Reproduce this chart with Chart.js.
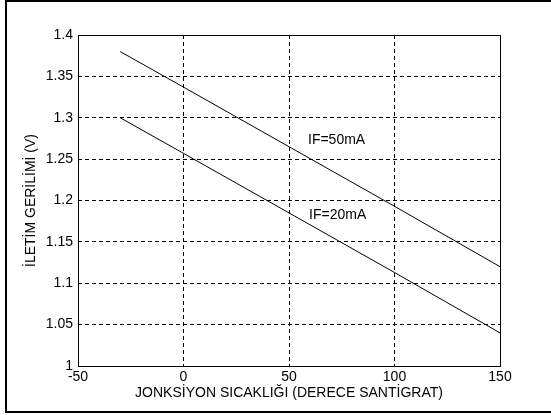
<!DOCTYPE html>
<html>
<head>
<meta charset="utf-8">
<script src="https://cdn.jsdelivr.net/npm/chart.js@4"></script>
<style>
html,body{margin:0;padding:0;background:#fff;}
#wrap{width:551px;height:415px;}
</style>
</head>
<body>
<div id="wrap"><canvas id="chart" width="551" height="415"></canvas></div>
<script>
// Data
const temps=[-30,0,50,100,150];
const vf50=[1.38,1.337,1.265,1.193,1.12];
const vf20=[1.30,1.257,1.185,1.113,1.04];
const seriesNames=['IF=50mA','IF=20mA'];
const labelPos=[[59,1.273],[59.5,1.1825]];
const xTicks=[-50,0,50,100,150];
const yTicks=[1,1.05,1.1,1.15,1.2,1.25,1.3,1.35,1.4];

const FONT='Liberation Sans';
const toPts=(xs,ys)=>xs.map((x,i)=>({x:x,y:ys[i]}));

// frame around the figure + plot box + in-plot labels
const framePlugin={
  id:'frame',
  afterDraw(chart){
    const ctx=chart.ctx;
    const a=chart.chartArea;
    ctx.save();
    ctx.strokeStyle='#000';
    ctx.lineWidth=1;
    ctx.strokeRect(Math.round(a.left)+0.5,Math.round(a.top)+0.5,Math.round(a.right-a.left),Math.round(a.bottom-a.top));
    ctx.lineWidth=2;
    ctx.strokeRect(6,1,600,411);
    ctx.fillStyle='#000';
    ctx.font='14px "'+FONT+'"';
    ctx.textAlign='left';
    ctx.textBaseline='middle';
    const xs=chart.scales.x, ys=chart.scales.y;
    seriesNames.forEach((n,i)=>{
      ctx.fillText(n,xs.getPixelForValue(labelPos[i][0]),ys.getPixelForValue(labelPos[i][1]));
    });
    ctx.restore();
  }
};

new Chart(document.getElementById('chart'),{
  type:'line',
  data:{datasets:[
    {label:seriesNames[0],data:toPts(temps,vf50),borderColor:'#000',borderWidth:1,pointRadius:0,tension:0},
    {label:seriesNames[1],data:toPts(temps,vf20),borderColor:'#000',borderWidth:1,pointRadius:0,tension:0}
  ]},
  options:{
    responsive:false,
    animation:false,
    layout:{padding:{left:0,right:51,top:35,bottom:0}},
    plugins:{legend:{display:false},tooltip:{enabled:false}},
    scales:{
      x:{
        type:'linear',min:-50,max:150,
        afterBuildTicks:s=>{s.ticks=xTicks.map(v=>({value:v}));},
        afterFit:s=>{s.height=49;},
        grid:{color:'#000',lineWidth:1,drawTicks:false},
        border:{display:false,dash:[4,3]},
        ticks:{color:'#000',padding:3,maxRotation:0,font:{family:FONT,size:14}},
        title:{display:true,text:'JONKSİYON SICAKLIĞI (DERECE SANTİGRAT)',color:'#000',font:{family:FONT,size:14},padding:{top:0,bottom:13.5}}
      },
      y:{
        type:'linear',min:1,max:1.4,
        afterBuildTicks:s=>{s.ticks=yTicks.map(v=>({value:v}));},
        afterFit:s=>{s.width=78;},
        grid:{color:'#000',lineWidth:1,drawTicks:false},
        border:{display:false,dash:[4,3]},
        ticks:{color:'#000',padding:5,font:{family:FONT,size:14},callback:v=>String(+v.toFixed(2))},
        title:{display:true,text:'İLETİM GERİLİMİ (V)',color:'#000',font:{family:FONT,size:14},padding:{top:22.5,bottom:0}}
      }
    }
  },
  plugins:[framePlugin]
});
</script>
</body>
</html>
